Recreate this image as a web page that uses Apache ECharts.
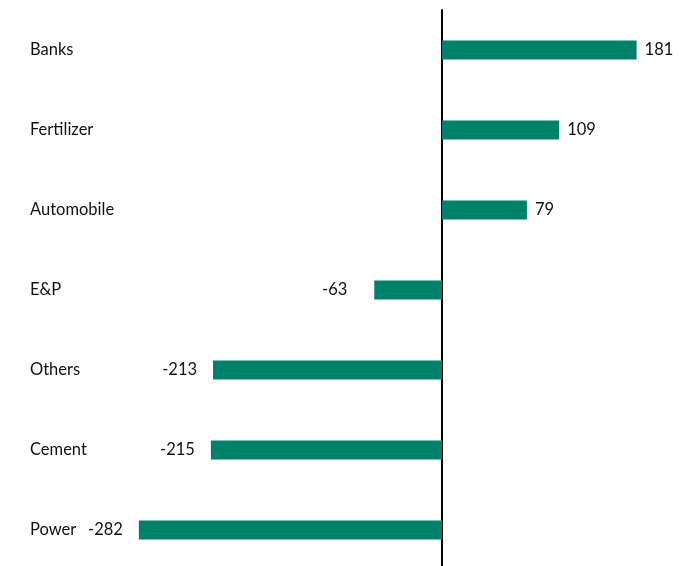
<!DOCTYPE html>
<html><head><meta charset="utf-8">
<script src="https://cdn.jsdelivr.net/npm/echarts@6/dist/echarts.min.js"></script>
<style>html,body{margin:0;padding:0;background:#fff}#c{width:686px;height:566px}</style>
</head><body><div id="c"></div>
<script>
var categories = ['Banks','Fertilizer','Automobile','E&P','Others','Cement','Power'];
var values = [181, 109, 79, -63, -213, -215, -282];

var FONT = 'Lato';
var labelDistance = {'E&P': 27};

var data = values.map(function(v, i){
  var d = labelDistance[categories[i]];
  return {value: v, label: {position: v >= 0 ? 'right' : 'left', distance: d != null ? d : (v >= 0 ? 8 : 16)}};
});

var chart = echarts.init(document.getElementById('c'));
chart.setOption({
  animation: false,
  grid: {left: 119.5, width: 537.5, top: 10, height: 560, outerBoundsMode: 'none'},
  xAxis: {type: 'value', min: -300, max: 200, axisLabel: {show: false}, splitLine: {show: false}, axisLine: {show: false}, axisTick: {show: false}},
  yAxis: [
    {type: 'category', data: categories, inverse: true, axisLine: {onZero: true, lineStyle: {color: '#000', width: 2}}, axisTick: {show: false}, axisLabel: {show: false}},
    {type: 'category', data: categories, inverse: true, position: 'left', axisLine: {show: false, onZero: false}, axisTick: {show: false},
     axisLabel: {align: 'left', margin: 89.5, fontFamily: FONT, fontSize: 16.5, color: '#111', padding: [3, 0, 0, 0]}}
  ],
  series: [{
    type: 'bar', data: data, barWidth: 19, itemStyle: {color: '#00826a'},
    label: {show: true, fontFamily: FONT, fontSize: 16.5, color: '#111', padding: [3, 0, 0, 0]}
  }]
});
</script></body></html>
